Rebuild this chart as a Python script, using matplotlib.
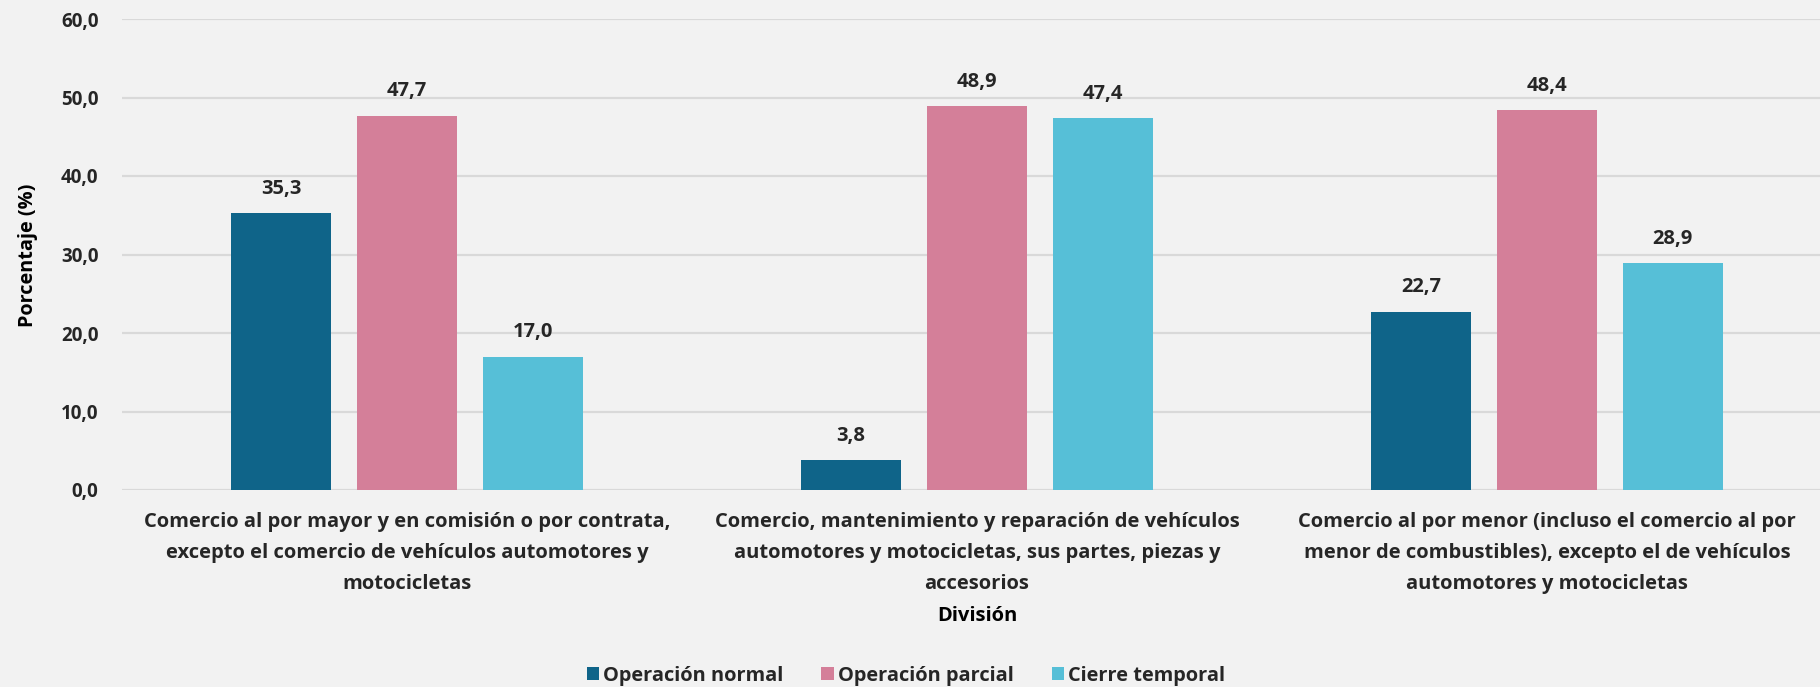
import numpy as np
import matplotlib.pyplot as plt
from matplotlib.patches import Patch

divisiones = [
    'Comercio al por mayor y en comisión o por contrata,\nexcepto el comercio de vehículos automotores y\nmotocicletas',
    'Comercio, mantenimiento y reparación de vehículos\nautomotores y motocicletas, sus partes, piezas y\naccesorios',
    'Comercio al por menor (incluso el comercio al por\nmenor de combustibles), excepto el de vehículos\nautomotores y motocicletas',
]
series = ['Operación normal', 'Operación parcial', 'Cierre temporal']
operacion_normal = [35.3, 3.8, 22.7]
operacion_parcial = [47.7, 48.9, 48.4]
cierre_temporal = [17.0, 47.4, 28.9]
y_ticks = [0, 10, 20, 30, 40, 50, 60]

colores = ['#0F6489', '#D47F99', '#56BFD7']
fondo = '#F2F2F2'
texto = '#262626'

plt.rcParams['font.family'] = ['Open Sans', 'DejaVu Sans']
plt.rcParams['font.weight'] = 'bold'


def coma(v):
    return f'{v:.1f}'.replace('.', ',')


fig = plt.figure(figsize=(18.2, 6.87), dpi=100, facecolor=fondo)
ax = fig.add_axes([122 / 1820, 1 - 490 / 687, 1710 / 1820, 471 / 687])
ax.set_facecolor(fondo)

x = np.arange(len(divisiones))
ancho = 0.175
paso = 0.221
valores = [operacion_normal, operacion_parcial, cierre_temporal]
for i, (nombre, vals) in enumerate(zip(series, valores)):
    pos = x + (i - 1) * paso
    barras = ax.bar(pos, vals, ancho, color=colores[i], label=nombre, zorder=3)
    for b, v in zip(barras, vals):
        ax.annotate(coma(v), (b.get_x() + b.get_width() / 2, v),
                    xytext=(0, 17.5), textcoords='offset points',
                    ha='center', va='center', fontsize=14.5,
                    fontweight='bold', color=texto)

ax.set_xlim(-0.5, 2.5)
ax.set_ylim(0, 60)
ax.set_yticks(y_ticks)
ax.set_yticklabels([coma(t) for t in y_ticks])
ax.yaxis.grid(True, color='#D9D9D9', linewidth=1.6, zorder=0)
ax.set_xticks(x)
ax.set_xticklabels(divisiones, linespacing=1.72)
for s in ax.spines.values():
    s.set_visible(False)
ax.tick_params(axis='both', length=0, colors=texto)
ax.tick_params(axis='y', labelsize=13.5, pad=17)
ax.tick_params(axis='x', labelsize=14.5, pad=16)
for lbl in ax.get_xticklabels() + ax.get_yticklabels():
    lbl.set_fontweight('bold')

ax.set_xlabel('División', fontsize=14.5, fontweight='bold', color='black')
ax.xaxis.set_label_coords(0.5, -(616 - 490) / 471, transform=ax.transAxes)
ax.xaxis.label.set_va('center')

fig.text(28 / 1820, 1 - 255 / 687, 'Porcentaje (%)', rotation=90,
         ha='center', va='center', fontsize=14.3, fontweight='bold', color='black')

handles = [Patch(facecolor=c, edgecolor='none') for c in colores]
fig.legend(handles, series, loc='center', bbox_to_anchor=(906 / 1820, 1 - 676 / 687),
           ncol=3, frameon=False, fontsize=14.4, handlelength=0.62, handleheight=0.62,
           handletextpad=0.2, columnspacing=1.9, labelcolor=texto)

fig.savefig('out.png', dpi=100, facecolor=fondo)
